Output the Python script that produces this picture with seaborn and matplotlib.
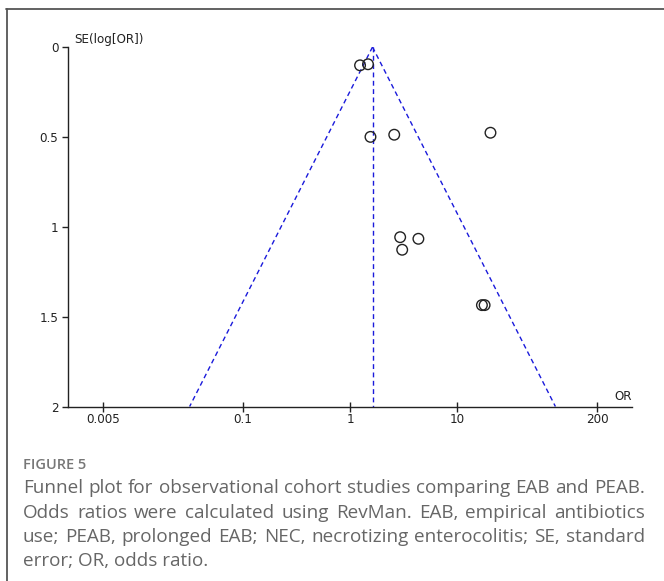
import numpy as np
import matplotlib
matplotlib.use("Agg")
import matplotlib.pyplot as plt
import seaborn as sns
import pandas as pd

# ---- data ----
odds_ratio = [1.24, 1.47, 1.55, 2.58, 20.3, 2.93, 4.33, 3.06, 16.9, 17.9]
se_log_or = [0.102, 0.096, 0.50, 0.488, 0.477, 1.058, 1.067, 1.128, 1.436, 1.436]
pooled_or = 1.62
se_max = 2.0
x_ticks = [0.005, 0.1, 1, 10, 200]
x_tick_labels = ["0.005", "0.1", "1", "10", "200"]
y_ticks = [0, 0.5, 1, 1.5, 2]
y_tick_labels = ["0", "0.5", "1", "1.5", "2"]

caption_title = "FIGURE 5"
caption_lines = [
    "Funnel plot for observational cohort studies comparing EAB and PEAB.",
    "Odds ratios were calculated using RevMan. EAB, empirical antibiotics",
    "use; PEAB, prolonged EAB; NEC, necrotizing enterocolitis; SE, standard",
    "error; OR, odds ratio.",
]

df = pd.DataFrame({"OR": odds_ratio, "SE": se_log_or})

sns.set_style("ticks")
plt.rcParams["font.family"] = ["DejaVu Sans"]

W, H = 664, 581
fig = plt.figure(figsize=(W / 100, H / 100), dpi=100)

# axes placed in pixel terms
ax_l, ax_r, ax_t, ax_b = 67.5, 632, 47, 406.5
ax = fig.add_axes([ax_l / W, 1 - ax_b / H, (ax_r - ax_l) / W, (ax_b - ax_t) / H])

sns.scatterplot(data=df, x="OR", y="SE", ax=ax, marker="o", s=58,
                facecolors="none", edgecolor="#222222", linewidth=1.0, zorder=3)

# funnel: pooled estimate and 95% limits
dash = dict(color="#1a1adb", linestyle=(0, (3.5, 2.5)), linewidth=1.0, zorder=2)
ax.plot([pooled_or, pooled_or], [0, se_max], **dash)
ax.plot([pooled_or, pooled_or * np.exp(-1.96 * se_max)], [0, se_max], **dash)
ax.plot([pooled_or, pooled_or * np.exp(1.96 * se_max)], [0, se_max], **dash)

ax.set_xscale("log")
ax.set_xlim(10 ** -2.63, 10 ** 2.625)
ax.set_ylim(2, 0)
ax.minorticks_off()
ax.set_xticks(x_ticks, x_tick_labels, fontsize=9.5, fontstretch="condensed", color="#222222")
ax.set_yticks(y_ticks, y_tick_labels, fontsize=9.5, fontstretch="condensed", color="#222222")
ax.set_xlabel("")
ax.set_ylabel("")

for s in ["top", "right"]:
    ax.spines[s].set_visible(False)
for s in ["left", "bottom"]:
    ax.spines[s].set_color("#222222")
    ax.spines[s].set_linewidth(1.0)

ax.xaxis.set_tick_params(which="major", bottom=True, direction="inout", length=7,
                         width=1, color="#222222", pad=1)
ax.yaxis.set_tick_params(which="major", left=True, direction="out", length=4.5,
                         width=1, color="#222222", pad=2)
for t in ax.xaxis.get_major_ticks() + ax.yaxis.get_major_ticks():
    t.tick1line.set_visible(True)
    t.tick1line.set_zorder(5)

tick_font = dict(fontsize=9.5, fontstretch="condensed", color="#222222")
fig.text(74 / W, 1 - 39 / H, "SE(log[OR])", ha="left", va="center", **tick_font)
fig.text(623 / W, 1 - 396 / H, "OR", ha="center", va="center", **tick_font)

# frame around figure + caption
fig.add_artist(plt.Line2D([6 / W, 1], [1 - 8.5 / H, 1 - 8.5 / H], color="#555555", linewidth=1.3))
fig.add_artist(plt.Line2D([6.5 / W, 6.5 / W], [0, 1 - 8.5 / H], color="#555555", linewidth=1.3))

cap_font = ["Open Sans", "DejaVu Sans"]
fig.text(23 / W, 1 - 465 / H, caption_title, ha="left", va="center",
         fontsize=10.5, fontweight="semibold", color="#777777", family=cap_font)

# justified caption lines
renderer = fig.canvas.get_renderer()
x0, x1 = 23, 645
line_y = [488, 513, 537, 561]
cap_size = 13.6
for i, line in enumerate(caption_lines):
    words = line.split(" ")
    y = 1 - line_y[i] / H
    if i == len(caption_lines) - 1:
        fig.text(x0 / W, y, line, ha="left", va="center", fontsize=cap_size,
                 color="#666666", family=cap_font)
        continue
    arts = [fig.text(0, y, w, ha="left", va="center", fontsize=cap_size,
                     color="#666666", family=cap_font) for w in words]
    widths = [a.get_window_extent(renderer).width for a in arts]
    gap = (x1 - x0 - sum(widths)) / (len(words) - 1)
    pos = x0
    for a, w in zip(arts, widths):
        a.set_x(pos / W)
        pos += w + gap

fig.savefig("out.png", dpi=100)
